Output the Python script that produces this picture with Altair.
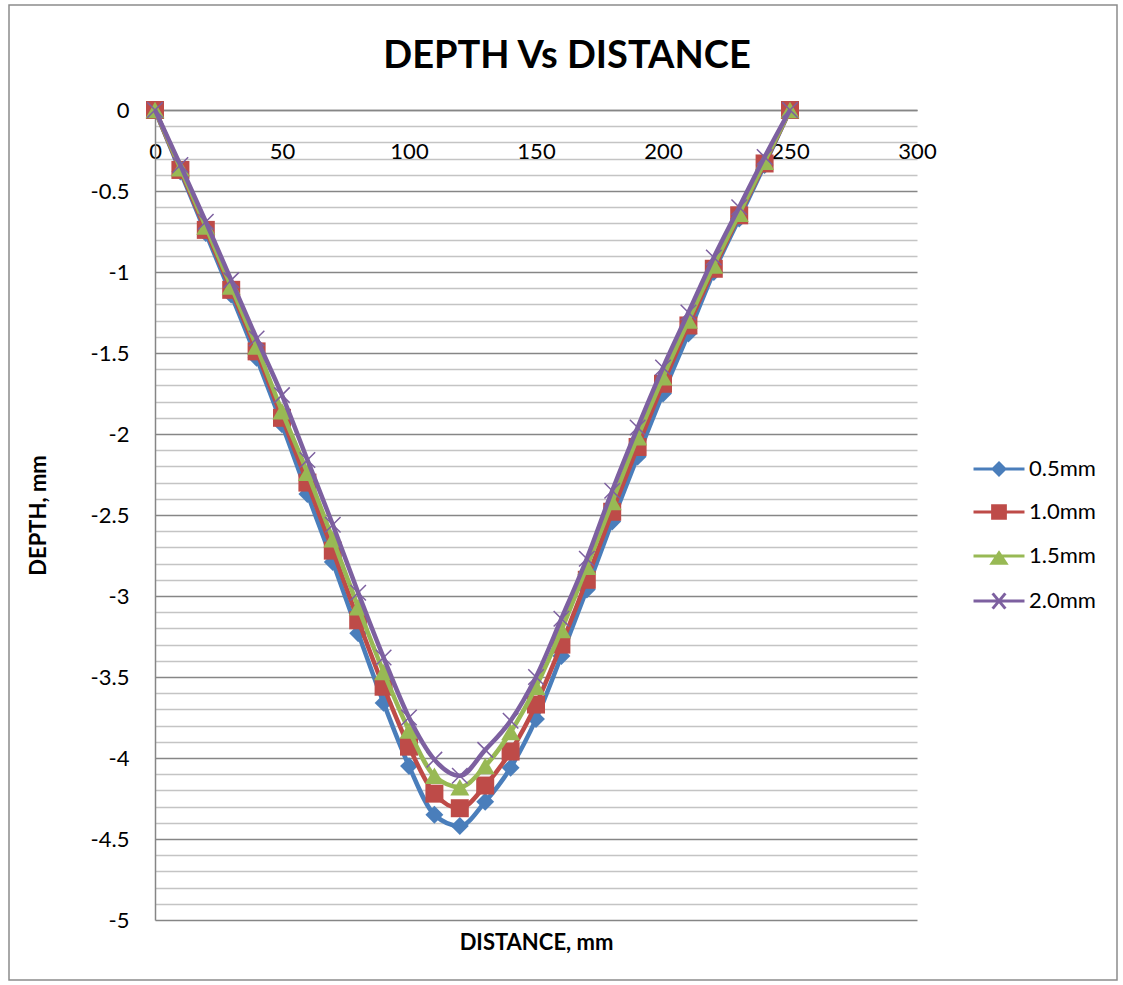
import altair as alt
import pandas as pd

# ---------------- data ----------------
distance = [0, 10, 20, 30, 40, 50, 60, 70, 80, 90, 100, 110, 120,
            130, 140, 150, 160, 170, 180, 190, 200, 210, 220, 230, 240, 250]
depth_05 = [0, -0.38, -0.76, -1.14, -1.53, -1.94, -2.37, -2.79, -3.23, -3.66, -4.05, -4.35, -4.42,
            -4.27, -4.06, -3.76, -3.37, -2.96, -2.54, -2.14, -1.75, -1.38, -1.00, -0.67, -0.34, 0]
depth_10 = [0, -0.37, -0.74, -1.11, -1.49, -1.90, -2.30, -2.72, -3.15, -3.56, -3.93, -4.22, -4.31,
            -4.17, -3.96, -3.67, -3.30, -2.90, -2.48, -2.08, -1.69, -1.33, -0.98, -0.65, -0.33, 0]
depth_15 = [0, -0.36, -0.72, -1.09, -1.46, -1.86, -2.24, -2.65, -3.07, -3.47, -3.83, -4.11, -4.18,
            -4.05, -3.84, -3.56, -3.21, -2.82, -2.42, -2.02, -1.65, -1.30, -0.96, -0.64, -0.32, 0]
depth_20 = [0, -0.34, -0.69, -1.05, -1.41, -1.76, -2.16, -2.56, -2.98, -3.38, -3.75, -4.01, -4.11,
            -3.95, -3.77, -3.50, -3.14, -2.77, -2.35, -1.96, -1.59, -1.25, -0.91, -0.60, -0.29, 0]
series_names = ["0.5mm", "1.0mm", "1.5mm", "2.0mm"]
x_ticks = [0, 50, 100, 150, 200, 250, 300]
title_text = ["DEPTH Vs DISTANCE"]

# ---------------- styles ----------------
colors = ["#4A7EBB", "#BE4B48", "#98B954", "#7D60A0"]
FONT = "Lato"
W, H = 762, 810

rows = []
for name, vals in zip(series_names, [depth_05, depth_10, depth_15, depth_20]):
    for d, v in zip(distance, vals):
        rows.append({"distance": d, "depth": v, "series": name})
df = pd.DataFrame(rows)

y_vals = [round(-5 + 0.1 * i, 1) for i in range(51)]
major = "abs(datum.value * 2 - round(datum.value * 2)) < 0.001"

x_enc = alt.X(
    "distance:Q",
    scale=alt.Scale(domain=[0, 300], nice=False, zero=False),
    axis=alt.Axis(
        values=x_ticks, orient="bottom", offset=-H, grid=False, ticks=False, tickSize=0,
        domainColor="#868686", domainWidth=1.5,
        labelFont=FONT, labelFontSize=22, labelColor="black", labelPadding=31,
        labelFlush=False, labelOverlap=False, labelBound=False,
        title="DISTANCE, mm", titleFont=FONT, titleFontSize=22, titleFontWeight="bold",
        titleColor="black", titleX=W / 2, titleY=832, titleAlign="center", titleBaseline="middle",
    ),
)
y_enc = alt.Y(
    "depth:Q",
    scale=alt.Scale(domain=[-5, 0], nice=False, zero=False),
    axis=alt.Axis(
        values=y_vals, labelExpr=f"{major} ? '' + datum.value : ''",
        grid=True, gridWidth=1.5,
        gridColor={"condition": {"test": major, "value": "#868686"}, "value": "#c4c4c4"},
        ticks=False, tickSize=0, domainColor="#868686", domainWidth=1.5,
        labelFont=FONT, labelFontSize=22, labelColor="black", labelPadding=26,
        labelFlush=False, labelOverlap=False, labelBound=False,
        title="DEPTH, mm", titleFont=FONT, titleFontSize=22, titleFontWeight="bold",
        titleColor="black", titleX=-117, titleY=H / 2, titleAngle=270,
        titleAlign="center", titleBaseline="middle",
    ),
)

# plot layers: data-driven domain (sorted series names) ; legend layer: explicit domain
plot_scale = alt.Scale(range=colors)
legend_scale = alt.Scale(domain=series_names, range=colors)

plot_shapes = ["diamond", "square", "triangle-up", "M-1,-1L1,1M-1,1L1,-1"]
plot_sizes = [320, 324, 361, 240]


def poly(points):
    return "M" + "L".join(f"{x:.3f},{y:.3f}" for x, y in points) + "Z"


def concentric(points, cx, cy, factors):
    out = ""
    for f in factors:
        out += poly([(cx + (x - cx) * f, cy + (y - cy) * f) for x, y in points])
    return out


LINE = "M-1,0L1,0"
diamond_pts = [(0, -0.23), (0.23, 0), (0, 0.23), (-0.23, 0)]
square_pts = [(-0.25, -0.25), (0.25, -0.25), (0.25, 0.25), (-0.25, 0.25)]
tri_pts = [(0, -0.12), (0.27, 0.28), (-0.27, 0.28)]
legend_paths = [
    LINE + concentric(diamond_pts, 0, 0, [1, 0.6, 0.25]),
    LINE + concentric(square_pts, 0, 0, [1, 0.62, 0.25]),
    LINE + concentric(tri_pts, 0, 0.147, [1, 0.6, 0.25]),
    LINE + "M-0.25,-0.3L0.25,0.3M-0.25,0.3L0.25,-0.3",
]

layers = []

# outer chart border
border = alt.Chart(pd.DataFrame({"k": [0]})).mark_rect(
    fill="white", fillOpacity=0, stroke="#8c8c8c", strokeWidth=1.5
).encode(x=alt.value(-146), x2=alt.value(962), y=alt.value(-105), y2=alt.value(870))
layers.append(border)

for i, name in enumerate(series_names):
    base = alt.Chart(df).transform_filter(alt.datum.series == name)
    line = base.mark_line(interpolate="monotone", strokeWidth=4.5).encode(
        x=x_enc, y=y_enc, stroke=alt.Stroke("series:N", scale=plot_scale, legend=None)
    )
    if i < 3:
        pts = base.mark_point(
            shape=plot_shapes[i], size=plot_sizes[i], filled=True, opacity=1
        ).encode(x=x_enc, y=y_enc, fill=alt.Fill("series:N", scale=plot_scale, legend=None))
    else:
        pts = base.mark_point(
            shape=plot_shapes[i], size=plot_sizes[i], filled=False, strokeWidth=1.5, opacity=1
        ).encode(x=x_enc, y=y_enc, stroke=alt.Stroke("series:N", scale=plot_scale, legend=None))
    layers += [line, pts]

legend = alt.Legend(
    title=None, orient="none", legendX=817, legendY=332, symbolSize=2600,
    symbolStrokeWidth=3, symbolOpacity=1, labelFont=FONT, labelFontSize=22,
    labelColor="black", labelOffset=3, rowPadding=4, padding=0,
)
legend_layer = alt.Chart(df).transform_filter("false").mark_point(
    filled=False, opacity=1, strokeWidth=3
).encode(
    x=x_enc, y=y_enc,
    color=alt.Color("series:N", scale=legend_scale, legend=legend),
    shape=alt.Shape("series:N", scale=alt.Scale(domain=series_names, range=legend_paths), legend=legend),
)
layers.append(legend_layer)

title = alt.Chart(pd.DataFrame({"t": title_text})).mark_text(
    font=FONT, fontSize=38, fontWeight="bold", align="center", baseline="alphabetic", color="black"
).encode(text="t:N", x=alt.value(412), y=alt.value(-42))
layers.append(title)

chart = alt.layer(*layers).properties(
    width=W, height=H,
    autosize=alt.AutoSizeParams(type="none"),
    padding={"left": 155, "top": 110, "right": 206, "bottom": 65},
    background="white",
).configure_view(stroke=None)

chart.save("out.html", embed_options={"renderer": "svg", "actions": False})
